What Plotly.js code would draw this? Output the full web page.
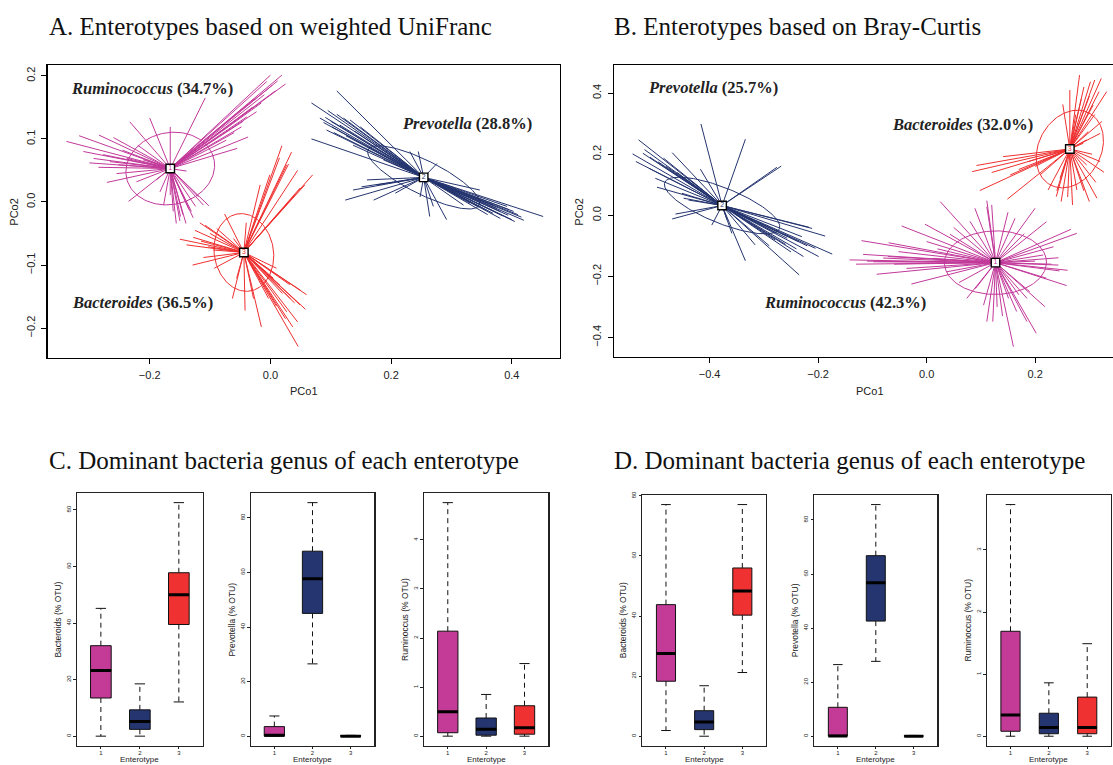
<!DOCTYPE html>
<html><head><meta charset="utf-8">
<script src="https://cdn.plot.ly/plotly-3.0.1.min.js"></script>
<style>html,body{margin:0;padding:0;background:#fff}#chart{width:1113px;height:765px}</style>
</head><body><div id="chart"></div>
<script>
// ================= DATA =================
const clusterLabels = ['1', '2', '3'];            // 1 = Ruminococcus, 2 = Prevotella, 3 = Bacteroides
const genusNames = ['Ruminococcus', 'Prevotella', 'Bacteroides'];
const A_share = ['34.7%', '28.8%', '36.5%'];
const B_share = ['42.3%', '25.7%', '32.0%'];

// Panel A: weighted UniFrac PCoA, class centres
const A_centerX = [-0.166, 0.254, -0.044];
const A_centerY = [0.053, 0.039, -0.080];
// sample points (spoke ends)
const A_rumX = [-0.338,-0.317,-0.284,-0.260,-0.233,-0.200,-0.166,-0.108,0.000,0.019,0.025,0.008,-0.015,-0.037,-0.055,-0.139,-0.102,-0.124,-0.140,-0.156,-0.149,-0.166,-0.183,-0.235,-0.271,-0.222,-0.285,-0.277,-0.252,-0.073,-0.023,-0.039,-0.131,-0.111,-0.189,-0.211,-0.006,-0.026,-0.048,-0.293,-0.266,-0.161,-0.177,-0.119,-0.238,-0.010,0.012,-0.030,-0.045,-0.060,0.003,-0.310,-0.300,-0.245,-0.220,-0.255,-0.150,-0.145,-0.135,-0.128];
const A_rumY = [0.096,0.105,0.106,0.102,0.127,0.133,0.119,0.165,0.201,0.201,0.187,0.176,0.157,0.103,0.085,0.049,-0.006,-0.007,-0.034,-0.034,-0.023,0.011,0.016,0.001,0.031,0.032,0.055,0.075,0.059,0.098,0.143,0.135,-0.015,-0.005,0.035,0.067,0.191,0.164,0.119,0.069,0.064,-0.015,-0.005,0.008,0.069,0.170,0.192,0.150,0.128,0.110,0.185,0.080,0.062,0.082,0.090,0.045,-0.030,-0.020,-0.012,-0.025];
const A_prevX = [0.110,0.068,0.091,0.088,0.110,0.093,0.068,0.132,0.149,0.137,0.160,0.137,0.124,0.171,0.207,0.270,0.292,0.276,0.452,0.416,0.405,0.403,0.392,0.381,0.347,0.358,0.331,0.320,0.187,0.231,0.245,0.151,0.121,0.381,0.369,0.248,0.082,0.102,0.369,0.394,0.176,0.264,0.095,0.100,0.115,0.105,0.125,0.140,0.410,0.400,0.385,0.375,0.360,0.345,0.420,0.395];
const A_prevY = [0.176,0.157,0.134,0.126,0.139,0.114,0.100,0.130,0.119,0.090,0.035,0.019,0.003,0.003,0.014,-0.007,-0.028,0.061,-0.023,-0.024,-0.031,-0.015,-0.007,-0.015,0.019,-0.013,-0.002,-0.005,0.067,0.080,0.080,0.024,0.133,-0.026,-0.018,0.008,0.133,0.119,-0.005,-0.021,0.027,-0.023,0.145,0.128,0.122,0.110,0.105,0.112,-0.020,-0.028,-0.022,-0.010,-0.020,-0.008,-0.029,-0.012];
const A_bactX = [0.019,0.035,0.070,0.049,0.038,-0.076,-0.117,-0.150,-0.128,-0.129,-0.111,-0.093,-0.063,-0.042,-0.015,0.037,0.046,0.058,0.033,0.016,0.005,-0.056,-0.028,-0.003,-0.040,-0.108,-0.095,0.010,0.060,0.027,-0.017,-0.001,-0.089,-0.061,0.027,0.057,0.032,0.049,-0.139,-0.103,0.045,0.040,0.025,0.050,0.020,0.010,-0.125,-0.115,-0.100,0.015,0.030,0.045];
const A_bactY = [0.089,0.079,0.043,0.022,0.008,-0.019,-0.033,-0.059,-0.056,-0.100,-0.088,-0.105,-0.153,-0.172,-0.198,-0.198,-0.229,-0.170,-0.153,-0.132,-0.121,-0.121,-0.153,-0.153,-0.033,-0.037,-0.076,-0.105,-0.147,-0.174,0.027,0.043,-0.042,-0.058,0.059,0.027,-0.131,-0.163,-0.068,-0.071,-0.190,-0.160,-0.185,-0.140,-0.145,-0.165,-0.045,-0.062,-0.050,0.070,0.060,0.050];
// ellipse: semi-axis a, semi-axis b, angle of a (degrees)
const A_ellA = [0.074, 0.102, 0.062];
const A_ellB = [0.057, 0.027, 0.049];
const A_ellAng = [10, -25.4, 101];

// Panel B: Bray-Curtis PCoA
const B_centerX = [0.127, -0.377, 0.264];
const B_centerY = [-0.155, 0.032, 0.217];
const B_rumX = [-0.142,-0.120,-0.092,-0.046,-0.028,-0.003,0.025,0.043,0.089,0.111,0.122,0.111,0.160,0.202,0.185,0.166,0.218,0.258,0.245,0.243,0.277,0.266,0.221,0.200,0.163,0.111,0.074,0.037,0.012,-0.052,-0.098,0.000,0.151,0.185,0.234,0.105,0.221,-0.117,-0.071,-0.037,0.243,0.120,-0.130,-0.110,-0.080,-0.060,0.200,0.230,0.215,0.190,0.170,0.140,0.130,0.090,0.060,0.050,0.080,0.150,0.180,0.260,0.020,-0.070];
const B_rumY = [-0.146,-0.083,-0.193,-0.035,-0.225,-0.029,0.045,-0.062,0.023,0.048,-0.348,-0.348,-0.430,-0.386,-0.348,-0.315,-0.299,-0.230,-0.182,-0.139,-0.059,-0.046,-0.021,0.023,-0.010,0.028,-0.272,-0.185,-0.141,-0.119,-0.152,-0.086,-0.272,-0.272,-0.103,-0.294,-0.206,-0.128,-0.135,-0.174,-0.163,0.034,-0.160,-0.150,-0.140,-0.160,-0.150,-0.160,-0.130,-0.250,-0.260,-0.330,-0.300,-0.240,-0.220,-0.040,-0.020,0.010,-0.060,-0.180,-0.110,-0.090];
const B_prevX = [-0.416,-0.334,-0.268,-0.276,-0.531,-0.542,-0.536,-0.523,-0.469,-0.485,-0.500,-0.497,-0.469,-0.463,-0.417,-0.448,-0.396,-0.334,-0.235,-0.316,-0.174,-0.187,-0.217,-0.199,-0.205,-0.227,-0.236,-0.257,-0.276,-0.279,-0.359,-0.368,-0.512,-0.451,-0.439,-0.211,-0.510,-0.495,-0.480,-0.460,-0.440,-0.520,-0.240,-0.220,-0.250,-0.260,-0.230,-0.290];
const B_prevY = [0.299,0.249,0.161,0.157,0.247,0.201,0.176,0.203,0.205,0.187,0.121,0.092,-0.012,0.004,0.151,0.056,-0.032,-0.149,-0.195,-0.097,-0.127,-0.068,-0.039,-0.135,-0.108,-0.135,-0.086,-0.075,-0.059,-0.081,-0.059,-0.015,0.154,0.072,0.050,-0.043,0.190,0.175,0.160,0.140,0.120,0.215,-0.110,-0.100,-0.120,-0.095,-0.070,-0.100];
const B_bactX = [0.282,0.264,0.251,0.302,0.310,0.322,0.318,0.332,0.307,0.323,0.320,0.295,0.320,0.327,0.312,0.314,0.300,0.269,0.248,0.239,0.224,0.209,0.149,0.098,0.084,0.092,0.141,0.154,0.188,0.289,0.277,0.246,0.295,0.298,0.290,0.300,0.285,0.310,0.275,0.170,0.200,0.120,0.240,0.260,0.290,0.305];
const B_bactY = [0.459,0.410,0.363,0.437,0.443,0.448,0.405,0.405,0.361,0.307,0.268,0.247,0.176,0.141,0.108,0.056,0.045,0.034,0.045,0.061,0.083,0.132,0.053,0.081,0.143,0.163,0.192,0.132,0.176,0.236,0.083,0.121,0.165,0.274,0.420,0.390,0.380,0.330,0.330,0.150,0.160,0.140,0.080,0.060,0.080,0.200];
const B_ellA = [0.094, 0.132, 0.128];
const B_ellB = [0.104, 0.050, 0.060];
const B_ellAng = [-3, -39.8, 82];

// Box plots: enterotype 1, 2, 3
const enterotypes = [1, 2, 3];
// C (weighted UniFrac enterotypes)
const C_bacLow = [0, 0, 12.1], C_bacQ1 = [13.5, 2.4, 39.5], C_bacMed = [23.2, 5.2, 50.0], C_bacQ3 = [32.0, 9.3, 57.8], C_bacHigh = [45.2, 18.5, 82.6];
const C_preLow = [0, 26.5, 0], C_preQ1 = [0, 45.0, 0], C_preMed = [0.3, 57.7, 0], C_preQ3 = [3.5, 67.8, 0.2], C_preHigh = [7.4, 85.6, 0.3];
const C_rumLow = [0, 0, 0], C_rumQ1 = [0.07, 0.02, 0.04], C_rumMed = [0.50, 0.14, 0.17], C_rumQ3 = [2.14, 0.37, 0.62], C_rumHigh = [4.76, 0.85, 1.48];
// D (Bray-Curtis enterotypes)
const D_bacLow = [1.9, 0, 21.2], D_bacQ1 = [18.3, 2.2, 40.3], D_bacMed = [27.5, 4.7, 48.3], D_bacQ3 = [43.8, 8.5, 56.0], D_bacHigh = [77.1, 16.8, 77.1];
const D_preLow = [0, 27.7, 0], D_preQ1 = [0, 42.6, 0], D_preMed = [0.1, 56.8, 0], D_preQ3 = [10.7, 66.8, 0.2], D_preHigh = [26.5, 85.7, 0.3];
const D_rumLow = [0, 0, 0], D_rumQ1 = [0.08, 0.04, 0.04], D_rumMed = [0.34, 0.14, 0.14], D_rumQ3 = [1.69, 0.37, 0.63], D_rumHigh = [3.73, 0.86, 1.49];
const boxTitles = ['Bacteroids (% OTU)', 'Prevotella (% OTU)', 'Ruminoccus (% OTU)'];

// ================= STYLE =================
const col = ['#C2399A', '#24346F', '#EF2F2F'];
const boxFill = ['#C33B97', '#243570', '#EF3131'];
const W = 1113, H = 765;
const px = v => v / W, py = v => 1 - v / H;
const traces = [];

function spokes(cx, cy, ex, ey, color, xa, ya) {
  const xs = [], ys = [];
  for (let i = 0; i < ex.length; i++) { xs.push(cx, ex[i], null); ys.push(cy, ey[i], null); }
  return {type: 'scatter', mode: 'lines', x: xs, y: ys, xaxis: xa, yaxis: ya,
    line: {color: color, width: 1}, hoverinfo: 'skip', showlegend: false};
}
function ellipse(cx, cy, a, b, angDeg, color, xa, ya) {
  const t = angDeg * Math.PI / 180, xs = [], ys = [];
  for (let k = 0; k <= 160; k++) {
    const th = 2 * Math.PI * k / 160, u = a * Math.cos(th), v = b * Math.sin(th);
    xs.push(cx + u * Math.cos(t) - v * Math.sin(t));
    ys.push(cy + u * Math.sin(t) + v * Math.cos(t));
  }
  return {type: 'scatter', mode: 'lines', x: xs, y: ys, xaxis: xa, yaxis: ya,
    line: {color: color, width: 1}, hoverinfo: 'skip', showlegend: false};
}
function centers(cx, cy, xa, ya) {
  return {type: 'scatter', mode: 'markers+text', x: cx, y: cy, text: clusterLabels, xaxis: xa, yaxis: ya,
    marker: {symbol: 'square', size: 8.5, color: '#fff', line: {color: '#000', width: 1.4}},
    textposition: 'middle center', textfont: {family: 'Liberation Sans', size: 7, color: col},
    hoverinfo: 'skip', showlegend: false};
}
function starPanel(cx, cy, ptsX, ptsY, ea, eb, eang, xa, ya) {
  for (let c = 0; c < 3; c++) traces.push(spokes(cx[c], cy[c], ptsX[c], ptsY[c], col[c], xa, ya));
  for (let c = 0; c < 3; c++) traces.push(ellipse(cx[c], cy[c], ea[c], eb[c], eang[c], col[c], xa, ya));
  traces.push(centers(cx, cy, xa, ya));
}
starPanel(A_centerX, A_centerY, [A_rumX, A_prevX, A_bactX], [A_rumY, A_prevY, A_bactY], A_ellA, A_ellB, A_ellAng, 'x', 'y');
starPanel(B_centerX, B_centerY, [B_rumX, B_prevX, B_bactX], [B_rumY, B_prevY, B_bactY], B_ellA, B_ellB, B_ellAng, 'x2', 'y2');

function boxPanel(low, q1, med, q3, high, bw, xa, ya) {
  const wx = [], wy = [], cxs = [], cys = [], mx = [], my = [];
  for (let i = 0; i < 3; i++) {
    const x = enterotypes[i];
    traces.push({type: 'box', x: [x], q1: [q1[i]], median: [med[i]], q3: [q3[i]],
      lowerfence: [q1[i]], upperfence: [q3[i]], width: bw, whiskerwidth: 0,
      fillcolor: boxFill[i], line: {color: '#111', width: 1}, boxpoints: false,
      xaxis: xa, yaxis: ya, hoverinfo: 'skip', showlegend: false});
    wx.push(x, x, null, x, x, null); wy.push(q3[i], high[i], null, q1[i], low[i], null);
    cxs.push(x - bw / 4, x + bw / 4, null, x - bw / 4, x + bw / 4, null);
    cys.push(high[i], high[i], null, low[i], low[i], null);
    mx.push(x - bw / 2, x + bw / 2, null); my.push(med[i], med[i], null);
  }
  traces.push({type: 'scatter', mode: 'lines', x: wx, y: wy, xaxis: xa, yaxis: ya,
    line: {color: '#111', width: 1, dash: '5px,4px'}, hoverinfo: 'skip', showlegend: false});
  traces.push({type: 'scatter', mode: 'lines', x: cxs, y: cys, xaxis: xa, yaxis: ya,
    line: {color: '#111', width: 1}, hoverinfo: 'skip', showlegend: false});
  traces.push({type: 'scatter', mode: 'lines', x: mx, y: my, xaxis: xa, yaxis: ya,
    line: {color: '#000', width: 3}, hoverinfo: 'skip', showlegend: false});
  const lo = Math.min(...low), hi = Math.max(...high), ext = (hi - lo) * 0.04;
  return [lo - ext, hi + ext];
}
const boxRanges = [
  boxPanel(C_bacLow, C_bacQ1, C_bacMed, C_bacQ3, C_bacHigh, 0.53, 'x3', 'y3'),
  boxPanel(C_preLow, C_preQ1, C_preMed, C_preQ3, C_preHigh, 0.53, 'x4', 'y4'),
  boxPanel(C_rumLow, C_rumQ1, C_rumMed, C_rumQ3, C_rumHigh, 0.53, 'x5', 'y5'),
  boxPanel(D_bacLow, D_bacQ1, D_bacMed, D_bacQ3, D_bacHigh, 0.5, 'x6', 'y6'),
  boxPanel(D_preLow, D_preQ1, D_preMed, D_preQ3, D_preHigh, 0.5, 'x7', 'y7'),
  boxPanel(D_rumLow, D_rumQ1, D_rumMed, D_rumQ3, D_rumHigh, 0.5, 'x8', 'y8')
];

// ================= LAYOUT =================
const axFont = {family: 'Liberation Sans', size: 11, color: '#222'};
function sAxis(dom, range, dtick, mirror, anchor) {
  return {domain: dom, range: range, dtick: dtick, tick0: 0, tickformat: '.1f', showgrid: false, zeroline: false,
    showline: true, mirror: mirror, linecolor: '#000', linewidth: 1.1, ticks: 'outside', ticklen: 5,
    tickcolor: '#000', tickwidth: 1, tickfont: axFont, anchor: anchor, ticklabelstandoff: 2};
}
const layout = {
  width: W, height: H, margin: {l: 0, r: 0, t: 0, b: 0}, paper_bgcolor: '#fff', plot_bgcolor: '#fff',
  showlegend: false, boxmode: 'overlay',
  xaxis: sAxis([px(47.5), px(560)], [-0.3694, 0.4799], 0.2, true, 'y'),
  yaxis: Object.assign(sAxis([py(357.7), py(64.7)], [-0.2468, 0.2176], 0.1, true, 'x'), {tickangle: -90}),
  xaxis2: sAxis([px(613.6), 1], [-0.577, 0.3436], 0.2, true, 'y2'),
  yaxis2: Object.assign(sAxis([py(356.7), py(64.7)], [-0.4629, 0.493], 0.2, false, 'x2'), {tickangle: -90}),
  annotations: []
};
const boxX = [[76.7, 203], [250.7, 374.3], [424, 548.3], [642.3, 766], [814.3, 937.3], [986.7, 1111]];
const boxY = [[493.3, 745.5], [493.3, 745.5], [493.3, 745.5], [495.3, 745.5], [495.3, 745.5], [495.3, 745.5]];
const boxDt = [20, 20, 1, 20, 20, 1];
const tinyFont = {family: 'Liberation Sans', size: 6, color: '#222'};
for (let i = 0; i < 6; i++) {
  const n = i + 3;
  layout['xaxis' + n] = {domain: [px(boxX[i][0]), px(boxX[i][1])], range: [0.38, 3.62], tickvals: enterotypes,
    ticktext: enterotypes.map(String), showgrid: false, zeroline: false, showline: true, mirror: true,
    linecolor: '#222', linewidth: 1.2, ticks: 'outside', ticklen: 2, tickcolor: '#222', tickfont: tinyFont,
    ticklabelstandoff: -1, anchor: 'y' + n};
  layout['yaxis' + n] = {domain: [py(boxY[i][1]), py(boxY[i][0])], range: boxRanges[i], dtick: boxDt[i], tick0: 0,
    showgrid: false, zeroline: false, showline: true, mirror: true, linecolor: '#222', linewidth: 1.2,
    ticks: 'outside', ticklen: 2.5, tickcolor: '#222', tickfont: tinyFont, tickangle: -90, anchor: 'x' + n};
  const fr = boxX[i], fy = boxY[i];
  layout.annotations.push({xref: 'paper', yref: 'paper', x: px(fr[0] - 18.5), y: py((fy[0] + fy[1]) / 2),
    text: boxTitles[i % 3], textangle: -90, showarrow: false, xanchor: 'center', yanchor: 'middle',
    font: {family: 'Liberation Sans', size: 8.5, color: '#222'}});
  layout.annotations.push({xref: 'paper', yref: 'paper', x: px((fr[0] + fr[1]) / 2), y: 0,
    text: 'Enterotype', showarrow: false, xanchor: 'center', yanchor: 'bottom', borderpad: 0,
    font: {family: 'Liberation Sans', size: 8, color: '#222'}});
}
const serif = 'Liberation Serif';
const titles = [
  ['A. Enterotypes based on weighted UniFranc', 47, 27],
  ['B. Enterotypes based on Bray-Curtis', 612, 27],
  ['C. Dominant bacteria genus of each enterotype', 47, 460],
  ['D. Dominant bacteria genus of each enterotype', 612, 460]
];
titles.forEach(t => layout.annotations.push({xref: 'paper', yref: 'paper', x: px(t[1]), y: py(t[2]), text: t[0],
  showarrow: false, xanchor: 'left', yanchor: 'middle', font: {family: serif, size: 25, color: '#111'}}));
const genusPos = [
  [0, A_share, 69, 88], [1, A_share, 400, 123.5], [2, A_share, 69.5, 303],
  [0, B_share, 762, 303], [1, B_share, 646, 87], [2, B_share, 890, 125]
];
genusPos.forEach(g => layout.annotations.push({xref: 'paper', yref: 'paper', x: px(g[2]), y: py(g[3]),
  text: '<b><i>' + genusNames[g[0]] + '</i> (' + g[1][g[0]] + ')</b>', showarrow: false, xanchor: 'left', yanchor: 'middle',
  font: {family: serif, size: 16.5, color: '#222'}}));
[[303.7, 391, 'PCo1', 0], [870, 391, 'PCo1', 0], [14, 211.7, 'PCo2', -90], [579, 211.7, 'PCo2', -90]].forEach(a =>
  layout.annotations.push({xref: 'paper', yref: 'paper', x: px(a[0]), y: py(a[1]), text: a[2], textangle: a[3],
    showarrow: false, xanchor: 'center', yanchor: 'middle', font: {family: 'Liberation Sans', size: 11, color: '#222'}}));

Plotly.newPlot('chart', traces, layout, {staticPlot: true, displayModeBar: false});
</script></body></html>
